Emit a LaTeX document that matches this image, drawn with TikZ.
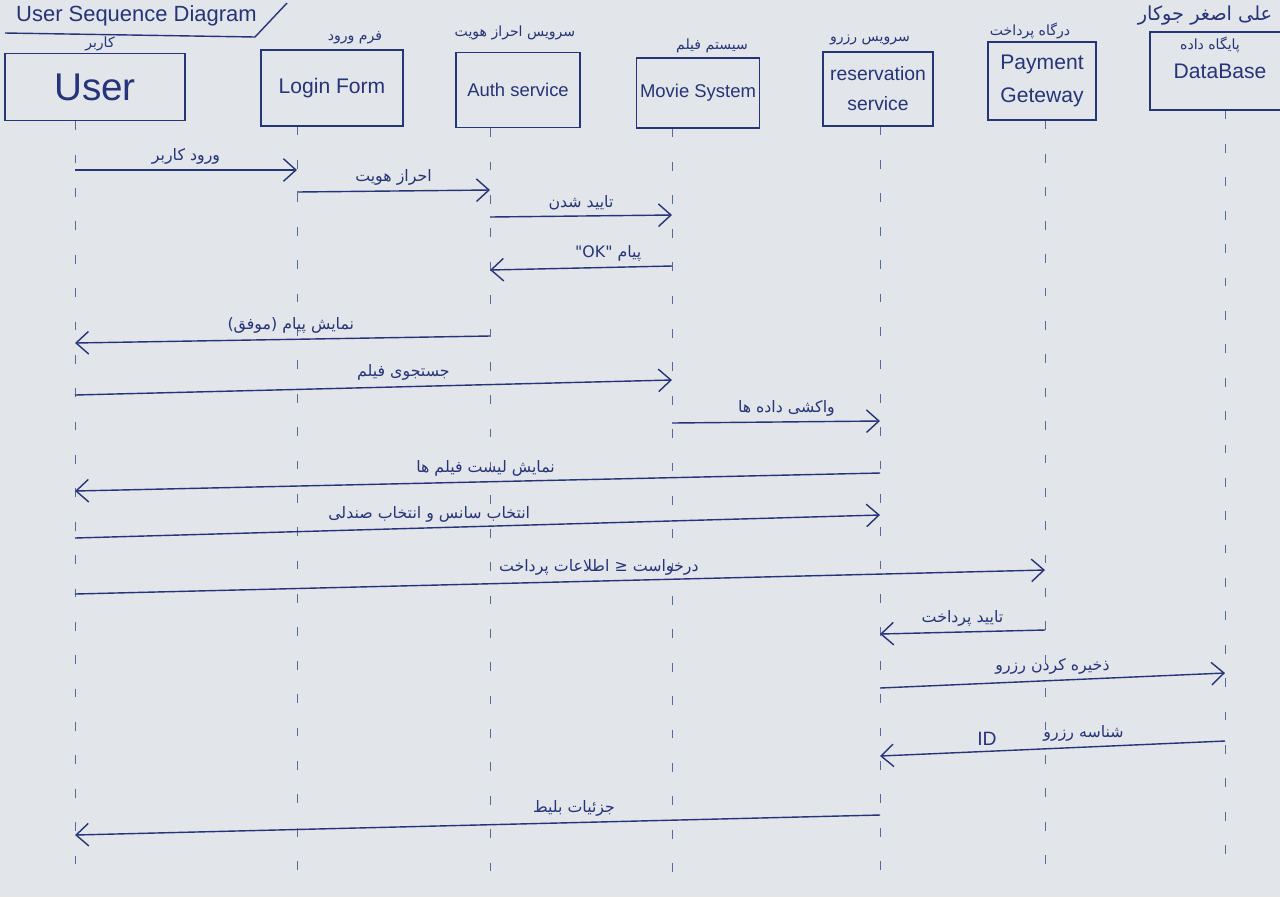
\documentclass[tikz,border=0pt]{standalone}
\usepackage{fontspec}
\setmainfont{Liberation Sans}
\newfontfamily\fafont[Script=Arabic]{DejaVu Sans}
\TeXXeTstate=1
\usetikzlibrary{arrows.meta,positioning,calc}
\definecolor{ink}{RGB}{38,52,120}
\definecolor{paper}{RGB}{226,229,233}
\newcommand{\fa}[1]{{\fafont\beginR #1\endR}}

\tikzset{
    head/.style={draw=ink, thick, text=ink, align=center, inner sep=2pt, font=\fontsize{12}{15}\selectfont},
    facap/.style={text=ink, inner sep=1pt, font=\fontsize{8}{10}\selectfont},
    life/.style={draw=ink!75, thin, dash pattern=on 5pt off 14pt},
    msg/.style={draw=ink, thick, -{Straight Barb[length=2.5mm,width=4.5mm]}},
    lbl/.style={text=ink, inner sep=3pt, font=\fontsize{9}{11}\selectfont},
}

\begin{document}
\begin{tikzpicture}[x=0.02cm, y=-0.02cm]
    % paper
    \fill[paper] (0,0) rectangle (1280,897);
    \clip (0,0) rectangle (1280,897);

    % Title
    \node[text=ink, anchor=west, font=\fontsize{12.5}{15}\selectfont] (title) at (10,16) {User Sequence Diagram};
    \draw[ink, thick] (5,33) -- (255,37) -- (287,3);

    % Participants
    \node[head, minimum width=3.6cm, minimum height=1.34cm, font=\fontsize{22}{24}\selectfont] (user) at (95,87) {User};
    \node[head, minimum width=2.84cm, minimum height=1.52cm] (login) at (332,88) {Login Form};
    \node[head, minimum width=2.48cm, minimum height=1.5cm, font=\fontsize{10.5}{13}\selectfont] (auth) at (518,90) {Auth service};
    \node[head, minimum width=2.4cm, minimum height=1.4cm, font=\fontsize{10.5}{13}\selectfont] (movie) at (698,93) {Movie System};
    \node[head, minimum width=2.2cm, minimum height=1.48cm, font=\fontsize{11}{17}\selectfont] (res) at (878,89) {reservation\\service};
    \node[head, minimum width=2.16cm, minimum height=1.56cm, font=\fontsize{12}{19}\selectfont] (pay) at (1042,81) {Payment\\Geteway};
    \node[head, minimum width=2.8cm, minimum height=1.56cm] (db) at (1220,71) {DataBase};

    % Persian captions
    \node[facap] (userfa) at (100,44) {\fa{کاربر}};
    \node[facap] (loginfa) at (355,38) {\fa{فرم ورود}};
    \node[facap] (authfa) at (515,33) {\fa{سرویس احراز هویت}};
    \node[facap] (moviefa) at (712,46) {\fa{سیستم فیلم}};
    \node[facap] (resfa) at (870,40) {\fa{سرویس رزرو}};
    \node[facap] (payfa) at (1030,31) {\fa{درگاه پرداخت}};
    \node[facap] (dbfa) at (1210,45) {\fa{پایگاه داده}};
    \node[facap, font=\fontsize{11}{13}\selectfont] (author) at (1205,16) {\fa{علی اصغر جوکار}};

    % Lifelines
    \foreach \n/\x in {user/75,login/297,auth/490,movie/672,res/880,pay/1045,db/1225} {
        \coordinate (l-\n) at (\x,875);
        \draw[life] (\n.south -| l-\n) -- (l-\n);
    }

    % Messages
    \draw[msg] (l-user |- 0,170) -- node[lbl, above] {\fa{ورود کاربر}} (l-login |- 0,170);
    \draw[msg] (l-login |- 0,192) -- node[lbl, above] {\fa{احراز هویت}} (l-auth |- 0,190);
    \draw[msg] (l-auth |- 0,217) -- node[lbl, above] {\fa{تایید شدن}} (l-movie |- 0,215);
    \draw[msg] (l-movie |- 0,266) -- node[lbl, above, pos=0.35] {\fa{پیام \beginL"OK"\endL}} (l-auth |- 0,270);
    \draw[msg] (l-auth |- 0,336) -- node[lbl, above, pos=0.48] {\fa{نمایش پیام (موفق)}} (l-user |- 0,343);
    \draw[msg] (l-user |- 0,395) -- node[lbl, above, pos=0.55] {\fa{جستجوی فیلم}} (l-movie |- 0,380);
    \draw[msg] (l-movie |- 0,423) -- node[lbl, above, pos=0.55] {\fa{واکشی داده ها}} (l-res |- 0,421);
    \draw[msg] (l-res |- 0,473) -- node[lbl, above, pos=0.49] {\fa{نمایش لیست فیلم ها}} (l-user |- 0,491);
    \draw[msg] (l-user |- 0,538) -- node[lbl, above, pos=0.44] {\fa{انتخاب سانس و انتخاب صندلی}} (l-res |- 0,515);
    \draw[msg] (l-user |- 0,594) -- node[lbl, above, pos=0.54] {\fa{درخواست ≤ اطلاعات پرداخت}} (l-pay |- 0,570);
    \draw[msg] (l-pay |- 0,630) -- node[lbl, above, pos=0.5] {\fa{تایید پرداخت}} (l-res |- 0,634);
    \draw[msg] (l-res |- 0,688) -- node[lbl, above, pos=0.5] {\fa{ذخیره کردن رزرو}} (l-db |- 0,673);
    \draw[msg] (l-db |- 0,741) -- node[lbl, above, pos=0.41] {\fa{شناسه رزرو}}
        node[lbl, above, pos=0.69, font=\fontsize{11}{13}\selectfont] {ID} (l-res |- 0,756);
    \draw[msg] (l-res |- 0,815) -- node[lbl, above, pos=0.38] {\fa{جزئیات بلیط}} (l-user |- 0,835);
\end{tikzpicture}
\end{document}
